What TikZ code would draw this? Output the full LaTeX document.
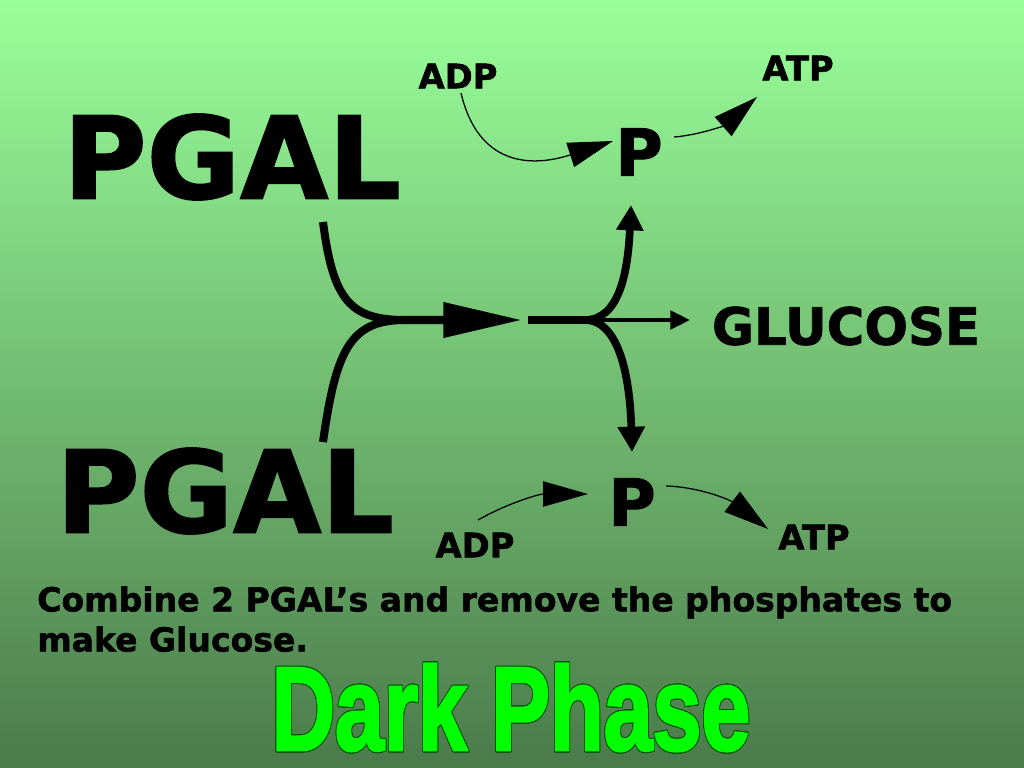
\documentclass[tikz,border=0pt]{standalone}
\usepackage{fontspec}
\usepackage{graphicx}
\usepackage{contour}
\usetikzlibrary{arrows.meta}
\setmainfont{DejaVu Sans}[BoldFeatures={FakeBold=1.5}]
\newfontfamily\phasefont{Liberation Sans}[BoldFeatures={FakeBold=2.5}]
\definecolor{bgtop}{RGB}{153,255,153}
\definecolor{bgbot}{RGB}{75,122,75}
\definecolor{phasegreen}{RGB}{0,255,0}
\definecolor{phaseline}{RGB}{0,80,0}
\contourlength{0.7pt}

\begin{document}
\begin{tikzpicture}[x=0.025cm, y=-0.025cm, inner sep=0pt,
  big/.style={line width=5.7pt, -{Triangle[length=56pt,width=24pt]}},
  fork/.style={line width=5.5pt, -{Triangle[length=18pt,width=18.5pt]}},
  thin/.style={line width=0.9pt, -{Triangle[length=32pt,width=18pt]}},
  chem/.style={font={\fontsize{24}{24}\selectfont\bfseries}}]
\shade[top color=bgtop, bottom color=bgbot] (0,0) rectangle (1024,768);
\useasboundingbox (0,0) rectangle (1024,768);
% molecules
\node (pgaltop) at (232,157) [font={\fontsize{81}{81}\selectfont\bfseries}] {PGAL};
\node (pgalbot) at (225,491) [font={\fontsize{81}{81}\selectfont\bfseries}] {PGAL};
\node (glucose) at (846,326) [font={\fontsize{36.5}{36.5}\selectfont\bfseries}] {GLUCOSE};
\node (ptop) at (639,152) [font={\fontsize{46}{46}\selectfont\bfseries}] {P};
\node (pbot) at (632,502) [font={\fontsize{46}{46}\selectfont\bfseries}] {P};
\node (adptop) at (458,76) [chem] {ADP};
\node (atptop) at (798,68) [chem] {ATP};
\node (adpbot) at (475,545) [chem] {ADP};
\node (atpbot) at (814,537) [chem] {ATP};
% arrow ends
\coordinate (in1) at (323,222);
\coordinate (in2) at (323,442);
\coordinate (join) at (405,320);
\coordinate (tip) at (522,320);
\coordinate (out) at (528,320);
\coordinate (fork) at (585,320);
\coordinate (up) at (631,205);
\coordinate (down) at (632,452);
\coordinate (right) at (690,320);
\coordinate (a1) at (461,93);
\coordinate (a2) at (613,141);
\coordinate (a3) at (674,137);
\coordinate (a4) at (757,97);
\coordinate (b1) at (478,520);
\coordinate (b2) at (588,494);
\coordinate (b3) at (666,486);
\coordinate (b4) at (768,529);
\draw[big] (in1) .. controls (333,300) and (350,320) .. (join) -- (tip);
\draw[line width=5.7pt] (in2) .. controls (336,350) and (350,320) .. (join);
\draw[fork] (out) -- (fork) .. controls (620,320) and (628,270) .. (up);
\draw[fork] (fork) .. controls (620,320) and (630,380) .. (down);
\draw[line width=3pt, -{Triangle[length=14pt,width=13pt]}] (fork) -- (right);
\draw[thin] (a1) .. controls (478,165) and (530,168) .. (a2);
\draw[thin] (a3) .. controls (700,135) and (725,125) .. (a4);
\draw[thin] (b1) .. controls (510,502) and (540,494) .. (b2);
\draw[thin] (b3) .. controls (700,487) and (730,500) .. (b4);
% caption
\node (note) at (37,586) [anchor=north west, align=left,
  font={\fontsize{23.5}{28.5}\selectfont\bfseries}]
  {Combine 2 PGAL’s and remove the phosphates to\\make Glucose.};
\node (phase) at (511,708) [text=phasegreen,
  font={\phasefont\fontsize{84.5}{84.5}\selectfont\bfseries}]
  {\scalebox{0.74}[1]{\contour{phaseline}{Dark Phase}}};
\end{tikzpicture}
\end{document}
